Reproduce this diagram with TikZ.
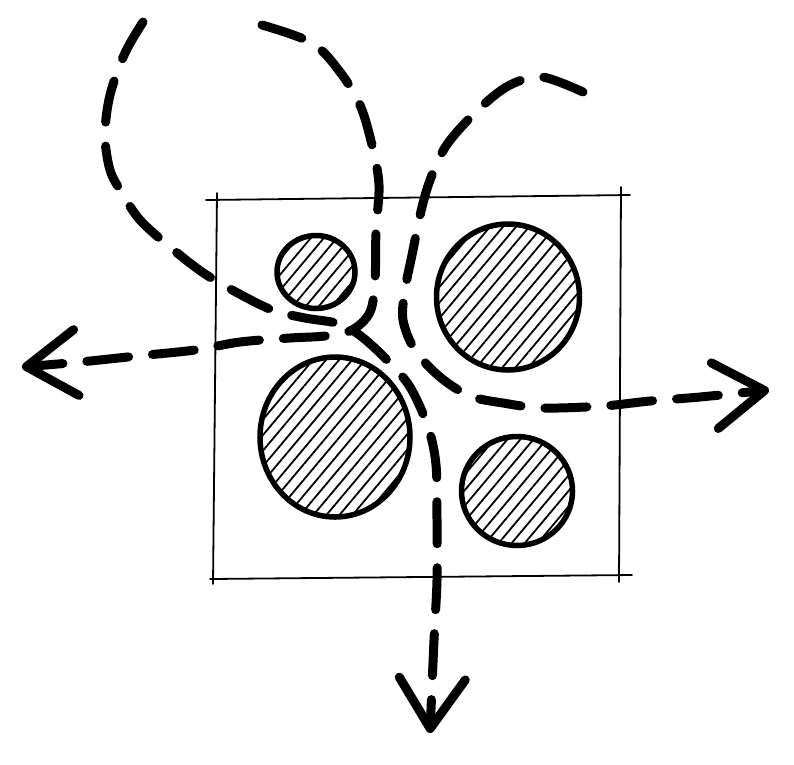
\documentclass[tikz,border=0pt]{standalone}
\usepackage{tikz}
\usetikzlibrary{arrows.meta,shapes.geometric,patterns.meta}
\tikzset{
  flow/.style={line width=9pt, line cap=round, dash pattern=on 42pt off 24pt},
  flowend/.style={-{Straight Barb[length=50pt,width=66pt,line width=9pt,round]}},
  blob/.style={ellipse, draw, line width=5.5pt, inner sep=0pt,
    pattern={Lines[angle=50,distance=10pt,line width=1.8pt]}},
  frame/.style={line width=1.8pt, line cap=round}
}

\begin{document}
\begin{tikzpicture}[x=1pt, y=-1pt]
  \useasboundingbox (0,0) rectangle (794,764);

  % arrow ends
  \coordinate (west) at (22,367);
  \coordinate (east) at (769,390);
  \coordinate (south) at (430,733);

  % frame
  \draw[frame] (206,200) -- (630,195);
  \draw[frame] (210,579) -- (632,575);
  \draw[frame] (217,193) -- (213,584);
  \draw[frame] (621,187) -- (619,582);

  % grains
  \node[blob, minimum width=78pt, minimum height=73pt] (small) at (316,272) {};
  \node[blob, minimum width=143pt, minimum height=146pt] (upper) at (508,297) {};
  \node[blob, minimum width=150pt, minimum height=160pt] (lower) at (335,437) {};
  \node[blob, minimum width=111pt, minimum height=109pt] (right) at (517,491) {};

  % big loop, right branch to the west
  \draw[flow, flowend] plot[smooth, tension=0.55] coordinates {
    (262,25) (312,43) (340,72) (360,105) (372,145) (379,185) (376,230)
    (375,280) (370,312) (352,330) (325,336) (290,338) (240,342)
    (195,350) (137,356) (80,362) (west)};

  % big loop, left branch to the south
  \draw[flow, flowend] plot[smooth, tension=0.55] coordinates {
    (143,22) (125,53) (110,95) (105,135) (110,170) (122,193) (140,220)
    (170,247) (205,274) (247,298) (275,311) (305,318) (340,324)
    (362,337) (387,360) (410,387) (428,427) (436,465) (437,520)
    (437,580) (434,640) (south)};

  % small loop to the east
  \draw[flow, flowend] plot[smooth, tension=0.55] coordinates {
    (583,92) (542,77) (510,85) (480,108) (448,143) (432,175) (422,207)
    (412,255) (405,290) (403,320) (415,350) (440,377) (470,396)
    (503,403) (543,408) (603,406) (650,401) (700,397) (east)};
\end{tikzpicture}
\end{document}
